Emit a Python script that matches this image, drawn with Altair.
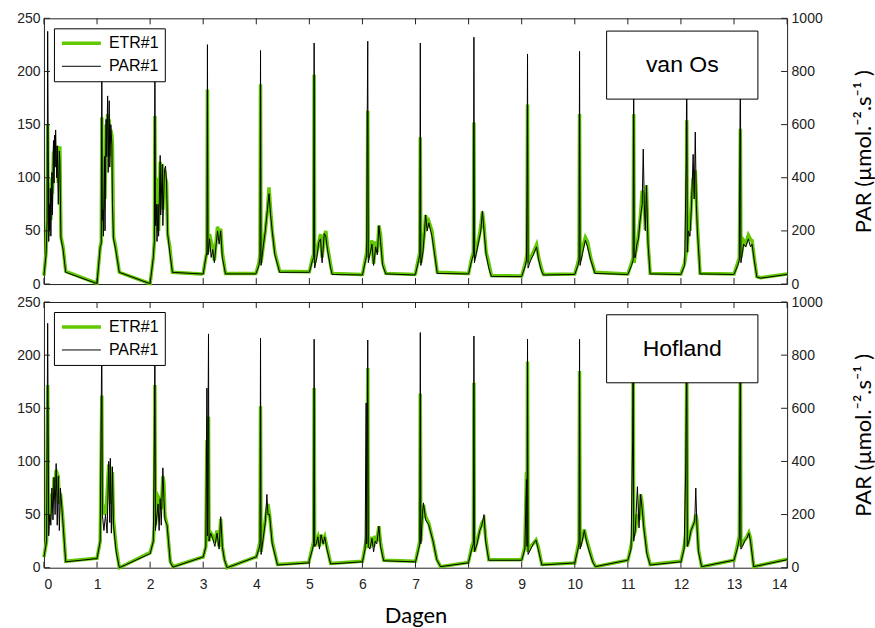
import altair as alt
import pandas as pd

# ---------------- data ----------------
SERIES = ["ETR#1", "PAR#1"]
COLORS = ["#62c800", "#000000"]
WIDTHS = [3.5, 1.0]
DAY_TICKS = list(range(15))
ETR_TICKS = [0, 50, 100, 150, 200, 250]
PAR_TICKS = [0, 200, 400, 600, 800, 1000]
PANEL_NAMES = ["van Os", "Hofland"]
BOX_X = [10.6, 13.45]
BOX_Y = [174, 238]

# panel "van Os": time (days), ETR (left axis), PAR (right axis)
OS_T = [0.00, 0.04, 0.06, 0.07, 0.08, 0.09, 0.10, 0.11, 0.12, 0.13, 0.15, 0.16, 0.18, 0.19, 0.20, 0.21, 0.22, 0.24, 0.25, 0.27, 0.29, 0.30, 0.32, 0.36, 0.41, 0.98,
        1.00, 1.06, 1.08, 1.09, 1.10, 1.11, 1.12, 1.14, 1.15, 1.17, 1.18, 1.20, 1.21, 1.23, 1.24, 1.26, 1.28, 1.29, 1.31, 1.35, 1.42, 1.99,
        2.00, 2.06, 2.08, 2.09, 2.10, 2.12, 2.13, 2.15, 2.16, 2.19, 2.20, 2.23, 2.24, 2.27, 2.29, 2.31, 2.33, 2.37, 2.42, 2.96,
        3.00, 3.05, 3.07, 3.08, 3.09, 3.12, 3.15, 3.18, 3.21, 3.27, 3.30, 3.33, 3.36, 3.42, 3.99,
        4.00, 4.05, 4.07, 4.08, 4.09, 4.13, 4.17, 4.21, 4.24, 4.27, 4.30, 4.35, 4.44, 4.99,
        5.00, 5.06, 5.08, 5.09, 5.10, 5.14, 5.18, 5.21, 5.24, 5.28, 5.31, 5.34, 5.40, 5.43, 5.99,
        6.00, 6.06, 6.08, 6.09, 6.10, 6.11, 6.15, 6.18, 6.21, 6.25, 6.28, 6.31, 6.34, 6.38, 6.44, 6.99,
        7.00, 7.06, 7.08, 7.09, 7.10, 7.14, 7.17, 7.19, 7.22, 7.25, 7.31, 7.36, 7.41, 7.99,
        8.00, 8.06, 8.09, 8.10, 8.11, 8.16, 8.20, 8.23, 8.26, 8.29, 8.33, 8.38, 8.43, 8.99,
        9.00, 9.07, 9.09, 9.10, 9.11, 9.12, 9.17, 9.22, 9.28, 9.32, 9.37, 9.41, 9.99,
        10.00, 10.06, 10.08, 10.09, 10.10, 10.15, 10.20, 10.24, 10.30, 10.38, 10.99,
        11.00, 11.07, 11.10, 11.11, 11.12, 11.14, 11.17, 11.20, 11.23, 11.27, 11.29, 11.31, 11.33, 11.35, 11.38, 11.42, 11.99,
        12.00, 12.07, 12.10, 12.11, 12.12, 12.14, 12.17, 12.20, 12.23, 12.25, 12.27, 12.29, 12.31, 12.36, 12.99,
        13.00, 13.07, 13.10, 13.12, 13.13, 13.18, 13.22, 13.27, 13.31, 13.34, 13.38, 13.43, 13.50, 14.00]
OS_ETR = [8, 30, 60, 150, 45, 70, 90, 75, 95, 60, 100, 85, 125, 110, 130, 120, 130, 115, 130, 95, 128, 128, 45, 35, 12, 1,
          1, 35, 40, 157, 60, 90, 70, 110, 80, 150, 130, 160, 120, 155, 120, 145, 140, 130, 45, 35, 11, 0.5,
          0.5, 25, 40, 158, 60, 100, 55, 72, 50, 115, 80, 113, 70, 107, 100, 95, 47, 35, 11, 9.5,
          10, 25, 30, 183, 30, 47, 40, 35, 22, 54, 48, 52, 30, 10, 10,
          11, 20, 28, 188, 20, 35, 50, 70, 91, 70, 50, 30, 12, 11.5,
          11.5, 25, 28, 197, 20, 30, 40, 47, 25, 45, 50, 36, 18, 10, 9,
          9, 25, 30, 40, 163, 25, 35, 41, 19, 40, 30, 55, 47, 20, 10, 9,
          10, 25, 30, 138, 20, 35, 50, 65, 55, 59, 50, 30, 11, 10,
          10, 25, 30, 152, 25, 36, 45, 55, 68, 55, 30, 20, 8, 7.5,
          7.5, 20, 25, 30, 169, 20, 25, 30, 37, 25, 15, 9, 9.5,
          9.5, 20, 25, 160, 22, 35, 44, 40, 25, 11, 9.5,
          9.5, 20, 25, 160, 20, 29, 35, 47, 60, 88, 80, 75, 51, 93, 40, 10, 9.4,
          9.4, 20, 30, 154, 30, 60, 50, 80, 100, 90, 107, 80, 55, 10, 9.4,
          9.4, 20, 25, 146, 25, 41, 38, 46, 42, 41, 25, 7, 6, 9.5]
OS_PAR = [32, 110, 240, 951, 540, 160, 300, 200, 360, 180, 420, 260, 540, 380, 560, 440, 580, 400, 520, 300, 500, 460, 170, 130, 44, 3,
          4, 140, 150, 880, 240, 280, 180, 480, 200, 620, 480, 708, 420, 690, 440, 600, 520, 300, 170, 130, 44, 2,
          2, 100, 160, 880, 220, 300, 160, 300, 180, 484, 260, 450, 220, 430, 444, 380, 190, 120, 44, 38,
          38, 100, 120, 901, 110, 170, 100, 130, 80, 200, 150, 200, 100, 38, 38,
          42, 70, 100, 879, 70, 140, 200, 280, 340, 260, 200, 110, 44, 44,
          44, 90, 100, 907, 60, 100, 160, 170, 80, 190, 180, 130, 60, 36, 34,
          34, 90, 110, 620, 914, 80, 120, 150, 70, 140, 110, 220, 160, 70, 38, 34,
          38, 90, 110, 907, 70, 120, 200, 260, 200, 230, 180, 110, 40, 38,
          38, 90, 110, 929, 80, 130, 170, 200, 275, 200, 110, 60, 28, 28,
          28, 70, 90, 360, 866, 60, 90, 110, 140, 90, 50, 34, 36,
          36, 70, 90, 876, 70, 120, 165, 140, 90, 40, 36,
          36, 70, 90, 880, 100, 100, 150, 170, 240, 300, 508, 300, 200, 372, 150, 38, 36,
          36, 70, 465, 880, 120, 200, 180, 300, 488, 320, 572, 300, 200, 38, 36,
          36, 70, 90, 880, 80, 150, 140, 170, 140, 150, 90, 26, 22, 36]

# panel "Hofland"
HOF_T = [0.00, 0.05, 0.07, 0.08, 0.09, 0.11, 0.13, 0.15, 0.17, 0.19, 0.21, 0.23, 0.25, 0.27, 0.29, 0.31, 0.35, 0.41, 0.98,
         1.00, 1.06, 1.09, 1.10, 1.13, 1.16, 1.19, 1.22, 1.24, 1.25, 1.27, 1.29, 1.31, 1.36, 1.42, 1.99,
         2.00, 2.06, 2.08, 2.09, 2.10, 2.13, 2.15, 2.17, 2.19, 2.21, 2.24, 2.26, 2.28, 2.32, 2.38, 2.43, 2.99,
         3.00, 3.05, 3.07, 3.08, 3.10, 3.11, 3.14, 3.18, 3.22, 3.26, 3.30, 3.33, 3.36, 3.40, 3.45, 3.99,
         4.00, 4.05, 4.07, 4.08, 4.09, 4.13, 4.17, 4.20, 4.22, 4.25, 4.30, 4.40, 4.99,
         5.00, 5.06, 5.08, 5.09, 5.10, 5.13, 5.16, 5.19, 5.22, 5.26, 5.29, 5.33, 5.40, 5.99,
         6.00, 6.05, 6.07, 6.08, 6.10, 6.11, 6.14, 6.18, 6.21, 6.24, 6.27, 6.31, 6.34, 6.40, 6.98,
         7.00, 7.06, 7.08, 7.09, 7.10, 7.13, 7.15, 7.19, 7.25, 7.33, 7.40, 7.47, 7.99,
         8.00, 8.06, 8.09, 8.10, 8.11, 8.16, 8.21, 8.25, 8.29, 8.32, 8.38, 8.99,
         9.00, 9.06, 9.09, 9.10, 9.11, 9.12, 9.17, 9.22, 9.27, 9.31, 9.38, 9.99,
         10.00, 10.06, 10.08, 10.09, 10.10, 10.14, 10.18, 10.22, 10.26, 10.34, 10.39, 10.99,
         11.00, 11.06, 11.09, 11.10, 11.11, 11.14, 11.18, 11.21, 11.24, 11.27, 11.30, 11.36, 11.42, 11.99,
         12.00, 12.06, 12.09, 12.11, 12.12, 12.15, 12.19, 12.23, 12.26, 12.28, 12.30, 12.33, 12.39, 12.99,
         13.00, 13.06, 13.10, 13.12, 13.13, 13.16, 13.20, 13.24, 13.28, 13.31, 13.37, 14.00]
HOF_ETR = [10, 25, 172, 60, 50, 48, 55, 70, 65, 85, 80, 92, 88, 86, 60, 70, 50, 6, 9,
           9, 25, 162, 50, 55, 50, 70, 97, 90, 95, 60, 90, 45, 20, 0, 14,
           14, 25, 40, 172, 40, 55, 67, 65, 60, 55, 86, 80, 49, 40, 6, 1, 10,
           10, 20, 120, 30, 142, 25, 33, 30, 24, 35, 20, 46, 20, 8, 0, 10,
           10, 20, 25, 152, 15, 30, 45, 55, 60, 50, 25, 3, 5,
           7.5, 20, 25, 169, 20, 25, 29, 20, 31, 25, 29, 20, 4, 6,
           6, 20, 25, 25, 188, 20, 20, 29, 20, 30, 25, 39, 24, 7, 6,
           6, 20, 25, 164, 25, 50, 59, 48, 42, 25, 8, 1, 5,
           6, 20, 25, 174, 15, 25, 35, 42, 45, 29, 7.5, 7.5,
           7.5, 20, 90, 20, 194, 15, 20, 23, 26, 20, 3, 4.5,
           4.5, 20, 25, 185, 20, 28, 36, 27, 20, 6, 1, 7,
           7, 20, 30, 200, 30, 35, 50, 45, 69, 60, 40, 15, 3, 6,
           6, 20, 30, 200, 20, 26, 35, 40, 44, 50, 45, 17, 1, 7,
           7, 20, 30, 200, 20, 23, 26, 29, 33, 28, 1, 8]
HOF_PAR = [40, 100, 920, 508, 120, 200, 160, 300, 180, 340, 200, 392, 160, 344, 140, 300, 190, 22, 34,
           34, 100, 880, 200, 140, 200, 130, 400, 170, 412, 130, 380, 160, 60, 0, 52,
           52, 100, 484, 880, 140, 200, 240, 140, 260, 160, 376, 260, 180, 160, 20, 2, 40,
           40, 80, 676, 120, 880, 100, 130, 110, 80, 130, 70, 192, 80, 30, 0, 40,
           40, 70, 90, 864, 50, 110, 170, 276, 200, 200, 90, 10, 18,
           28, 70, 90, 860, 80, 90, 116, 70, 124, 90, 116, 70, 14, 22,
           22, 70, 620, 90, 857, 80, 70, 110, 60, 100, 90, 156, 80, 26, 22,
           22, 70, 90, 885, 90, 200, 244, 180, 160, 100, 30, 4, 18,
           22, 70, 90, 872, 60, 90, 140, 160, 200, 100, 28, 28,
           28, 70, 332, 80, 860, 50, 70, 90, 104, 70, 10, 18,
           18, 70, 90, 860, 70, 100, 140, 100, 70, 20, 4, 28,
           28, 70, 475, 880, 100, 140, 305, 150, 276, 220, 150, 50, 10, 22,
           22, 70, 368, 880, 80, 100, 140, 160, 176, 300, 160, 60, 4, 28,
           28, 70, 110, 880, 70, 80, 100, 110, 130, 100, 4, 30]

PAR_TITLE = "PAR (µmol.⁻².s⁻¹ )"

W, H = 744, 266
TICK = 6


def panel(t, etr, par, name, show_x):
    df_e = pd.DataFrame({"t": t, "v": etr, "series": SERIES[0]})
    df_p = pd.DataFrame({"t": t, "v": par, "series": SERIES[1]})
    df_box = pd.DataFrame({"x0": [BOX_X[0]], "x1": [BOX_X[1]], "y0": [BOX_Y[0]], "y1": [BOX_Y[1]],
                           "xc": [sum(BOX_X) / 2], "yc": [sum(BOX_Y) / 2], "label": [name]})
    df_xt = pd.DataFrame({"t": DAY_TICKS})
    df_yt = pd.DataFrame({"v": ETR_TICKS})

    xs = alt.Scale(domain=[0, 14], nice=False, zero=False)
    if show_x:
        xax = alt.Axis(values=DAY_TICKS, ticks=False, domain=False, grid=False, labelPadding=10,
                       labelFontSize=14, title="Dagen", titleFont="Lato", titleFontSize=22,
                       titleFontWeight="normal", titleColor="black", titleBaseline="alphabetic",
                       titleY=55)
    else:
        xax = None
    ys_e = alt.Scale(domain=[0, 250], nice=False, zero=True)
    ys_p = alt.Scale(domain=[0, 1000], nice=False, zero=True)

    leg = alt.Legend(title=None, orient="none", legendX=10, legendY=10, strokeColor="black",
                     fillColor="white", padding=6, symbolType="stroke", symbolSize=1521,
                     labelFont="Liberation Sans", labelFontSize=16, labelColor="black",
                     rowPadding=5, clipHeight=18, labelOffset=6, zindex=1)
    color = alt.Color("series:N", scale=alt.Scale(domain=SERIES, range=COLORS), legend=leg)
    sw = alt.StrokeWidth("series:N", scale=alt.Scale(domain=SERIES, range=WIDTHS), legend=leg)

    yax_left = alt.Axis(values=ETR_TICKS, ticks=False, domain=False, grid=False, labelPadding=4,
                        labelFontSize=14, title=None, format="d")
    yax_right = alt.Axis(orient="right", values=PAR_TICKS, ticks=False, domain=False, grid=False,
                         labelPadding=4, labelFontSize=14, format="d", title=PAR_TITLE, titleAngle=270,
                         titleX=76, titleY=H / 2, titleFont="Lato", titleFontSize=22,
                         titleFontWeight="normal", titleColor="black", titleAlign="center",
                         titleBaseline="middle")

    etr_line = alt.Chart(df_e).mark_line().encode(
        x=alt.X("t:Q", scale=xs, axis=xax),
        y=alt.Y("v:Q", scale=ys_e, axis=yax_left),
        color=color, strokeWidth=sw)
    par_line = alt.Chart(df_p).mark_line().encode(
        x=alt.X("t:Q", scale=xs, axis=xax),
        y=alt.Y("v:Q", scale=ys_p, axis=yax_right),
        color=color, strokeWidth=sw)
    box = alt.Chart(df_box).mark_rect(fill="white", stroke="black", strokeWidth=1).encode(
        x=alt.X("x0:Q", scale=xs, axis=xax), x2="x1",
        y=alt.Y("y0:Q", scale=ys_e, axis=None), y2="y1")
    label = alt.Chart(df_box).mark_text(font="Liberation Sans", fontSize=23, color="black").encode(
        x=alt.X("xc:Q", scale=xs, axis=xax),
        y=alt.Y("yc:Q", scale=ys_e, axis=None), text="label:N")
    xt_bottom = alt.Chart(df_xt).mark_rule(color="#222", strokeWidth=1).encode(
        x=alt.X("t:Q", scale=xs, axis=xax), y=alt.value(H), y2=alt.value(H - TICK))
    xt_top = alt.Chart(df_xt).mark_rule(color="#222", strokeWidth=1).encode(
        x=alt.X("t:Q", scale=xs, axis=xax), y=alt.value(0), y2=alt.value(TICK))
    yt_left = alt.Chart(df_yt).mark_rule(color="#222", strokeWidth=1).encode(
        y=alt.Y("v:Q", scale=ys_e, axis=None), x=alt.value(0), x2=alt.value(TICK))
    yt_right = alt.Chart(df_yt).mark_rule(color="#222", strokeWidth=1).encode(
        y=alt.Y("v:Q", scale=ys_e, axis=None), x=alt.value(W - TICK), x2=alt.value(W))

    return alt.layer(etr_line, par_line, box, label, xt_bottom, xt_top, yt_left, yt_right).resolve_scale(
        y="independent").properties(width=W, height=H)


top = panel(OS_T, OS_ETR, OS_PAR, PANEL_NAMES[0], False)
bottom = panel(HOF_T, HOF_ETR, HOF_PAR, PANEL_NAMES[1], True)

chart = alt.vconcat(top, bottom, spacing=18, bounds="flush").resolve_scale(
    color="independent", strokeWidth="independent"
).properties(
    padding={"left": 16, "top": 10, "right": 0, "bottom": 0},
    background="white",
).configure_view(
    stroke="#222", strokeWidth=1
).configure_axis(
    labelFont="Liberation Sans", labelColor="#222"
)

chart.save("out.html", embed_options={"renderer": "svg", "actions": False})
